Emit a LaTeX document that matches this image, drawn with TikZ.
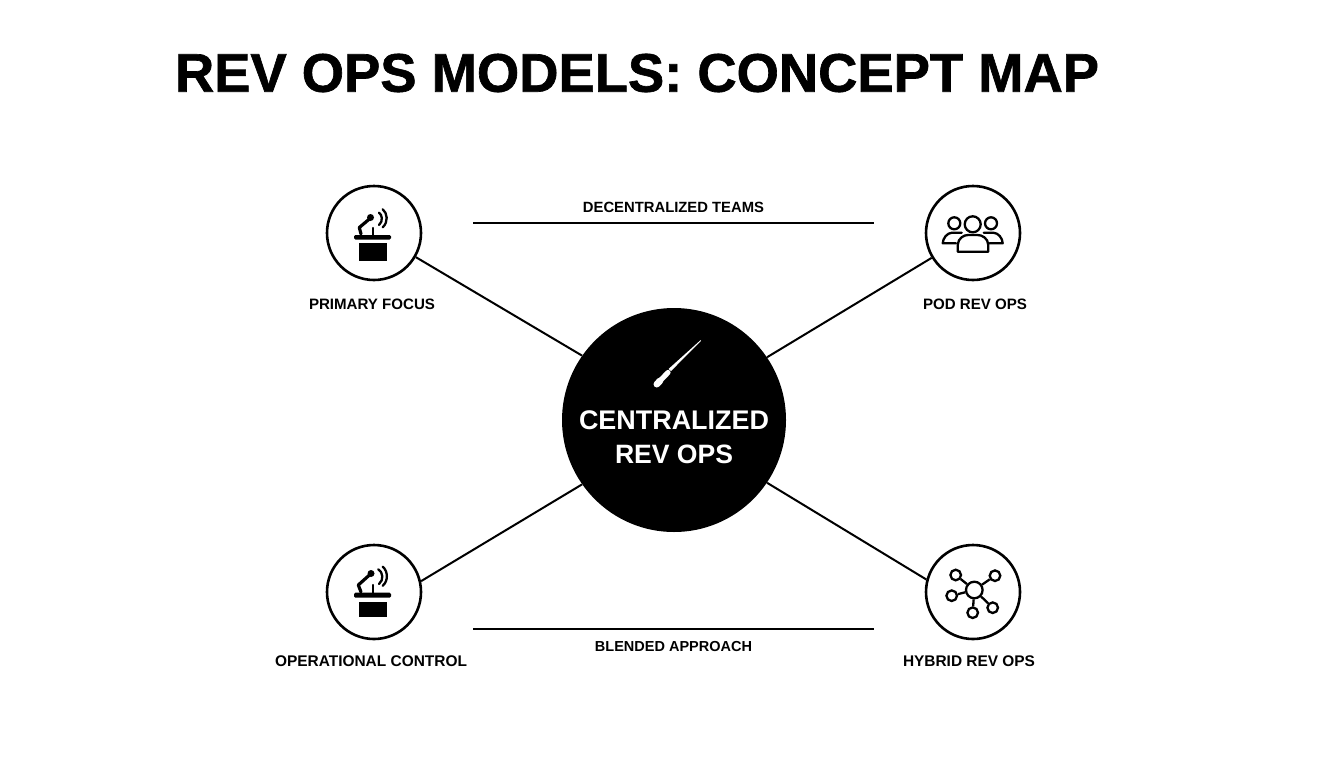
\documentclass[tikz,border=0pt]{standalone}
\usepackage{fontspec}
\usepackage{graphicx}
\setmainfont{Liberation Sans}
\newfontfamily\titlefont[FakeBold=1.2]{Liberation Sans Bold}
\newcommand{\fitw}[2]{\resizebox{#1}{!}{\bfseries #2}}
\tikzset{
  x=0.75pt,y=-0.75pt,
  ring/.style={circle,draw=black,line width=2.6*0.75pt,fill=white,minimum size=94*0.75pt,inner sep=0pt},
  hubring/.style={circle,draw=black,line width=2.3*0.75pt,minimum size=#1*0.75pt,inner sep=0pt},
  label/.style={inner sep=0pt,text=black,anchor=center},
  link/.style={draw=black,line width=2*0.75pt},
  iconline/.style={draw=black,line width=2.3*0.75pt,line cap=round,line join=round},
  spoke/.style={draw=black,line width=2.3*0.75pt}
}
\begin{document}
\begin{tikzpicture}
\useasboundingbox (0,0) rectangle (1344,768);
\fill[white] (0,0) rectangle (1344,768);

% title
\node[label] (title) at (637,73) {\resizebox{693pt}{!}{\titlefont REV OPS MODELS: CONCEPT MAP}};

% main nodes
\node[circle,fill=black,minimum size=224*0.75pt,inner sep=0pt] (center) at (674,420) {};
\node[ring] (tl) at (374,233) {};
\node[ring] (tr) at (973,233) {};
\node[ring] (bl) at (374,592) {};
\node[ring] (br) at (973,592) {};

% connectors
\draw[link] (center.145.8) -- (tl.-30);
\draw[link] (center.34.5) -- (tr.-149);
\draw[link] (center.-145) -- (bl.13);
\draw[link] (center.-34.5) -- (br.165.5);

\coordinate (ha) at (473,222.5);
\coordinate (hb) at (874,222.5);
\coordinate (hc) at (473,629);
\coordinate (hd) at (874,629);
\draw[link] (ha) -- (hb);
\draw[link] (hc) -- (hd);

% labels
\node[label] (ldt) at (673.5,207) {\fitw{135.8pt}{DECENTRALIZED TEAMS}};
\node[label] (lba) at (673.5,646.5) {\fitw{117.8pt}{BLENDED APPROACH}};
\node[label] (lpf) at (372,304) {\fitw{94.5pt}{PRIMARY FOCUS}};
\node[label] (lpo) at (975,304) {\fitw{78pt}{POD REV OPS}};
\node[label] (loc) at (371,661) {\fitw{144pt}{OPERATIONAL CONTROL}};
\node[label] (lhy) at (969,661) {\fitw{99pt}{HYBRID REV OPS}};
\node[label,text=white] (lc1) at (674,420) {\fitw{142.5pt}{\textcolor{white}{CENTRALIZED}}};
\node[label,text=white] (lc2) at (674,454) {\fitw{88.5pt}{\textcolor{white}{REV OPS}}};

% wand icon
\fill[white] (700.5,340.2) -- (701,340.9) -- (671,371) -- (668.5,369) -- cycle;
\draw[white,line width=5.2*0.75pt,line cap=round] (668,372.5) -- (656.8,384.2);
\draw[white,line width=6.6*0.75pt,line cap=round] (660,380.8) -- (656.8,384.2);

% podium top left
\fill[black,rounded corners=1pt] (354,235) rectangle (391,239.5);
\fill[black] (358.7,242.7) rectangle (387.3,260.7);
\draw[iconline] (373.3,228) -- (373.3,235);
\draw[iconline,line width=3.2*0.75pt] (361,234) -- (359.3,227.5) -- (370,218.5);
\fill[black] (370.5,217.5) circle (3.5);
\draw[iconline] (379,212.7) .. controls (382,214.5) and (383.5,221) .. (379,225);
\draw[iconline] (382.7,209.3) .. controls (387.5,213) and (388.5,222) .. (382.7,227.3);

% podium bottom left
\fill[black,rounded corners=1pt] (354,592.7) rectangle (391,597.7);
\fill[black] (358.7,601.7) rectangle (386.7,617.3);
\draw[iconline] (373.3,585) -- (373.3,592.7);
\draw[iconline,line width=3.2*0.75pt] (361,592) -- (358.3,585) -- (370,574.5);
\fill[black] (371,573.5) circle (3.5);
\draw[iconline] (378.3,569.3) .. controls (383,572) and (384,580) .. (379,584);
\draw[iconline] (382.7,566.7) .. controls (388,571) and (388.5,581) .. (382.7,585.7);

% people icon
\draw[iconline] (972.7,224.3) circle (8);
\draw[iconline] (954.3,223.3) circle (6);
\draw[iconline] (991,223.3) circle (6);
\draw[iconline] (957.7,251.7) -- (957.7,245) .. controls (958,238) and (964,235) .. (968,235)
  -- (977.5,235) .. controls (982,235) and (988,238) .. (988.3,245) -- (988.3,251.7) -- cycle;
\draw[iconline] (961.7,232.7) -- (952,232.7) .. controls (947,233) and (943,238) .. (942.7,243.3) -- (956,243.3);
\draw[iconline] (983.7,232.7) -- (993.4,232.7) .. controls (998.4,233) and (1002.4,238) .. (1002.7,243.3) -- (989.4,243.3);

% hub icon
\node[hubring=16.6] (h0) at (974.3,590) {};
\node[hubring=10.6] (h1) at (955.7,575) {};
\node[hubring=10.6] (h2) at (995,575.7) {};
\node[hubring=10.6] (h3) at (951.7,595.7) {};
\node[hubring=10.6] (h4) at (972.7,612.7) {};
\node[hubring=10.6] (h5) at (992.7,607.7) {};
\foreach \n in {h1,h2,h3,h4,h5} \draw[spoke] (h0) -- (\n);
\end{tikzpicture}
\end{document}
